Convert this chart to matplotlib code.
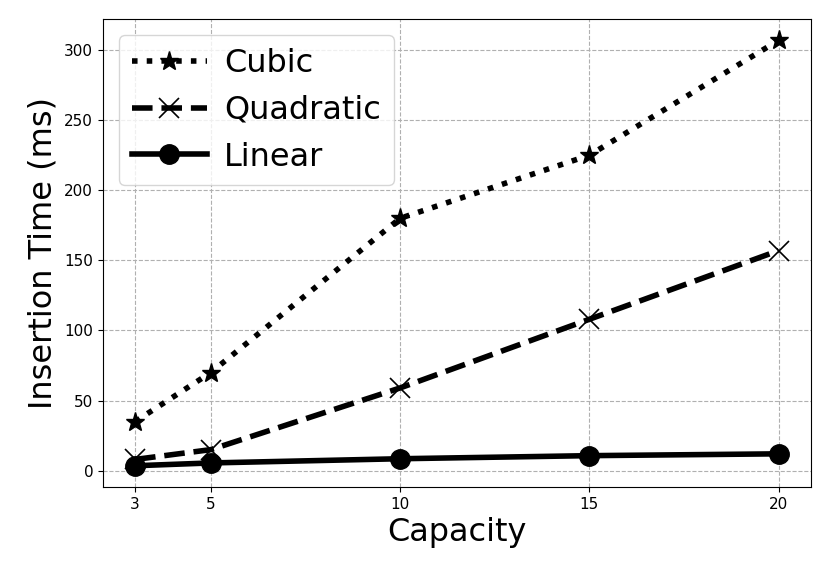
import matplotlib
matplotlib.use("Agg")
import matplotlib.pyplot as plt

capacity = [3, 5, 10, 15, 20]
cubic = [35, 70, 180, 225, 307]
quadratic = [8, 15, 59, 108, 157]
linear = [3.5, 5.5, 8.5, 10.7, 12]

fig = plt.figure(figsize=(8.3, 5.75), dpi=100)
ax = fig.add_axes([0.124, 0.153, 0.853, 0.814])

ax.plot(capacity, cubic, linestyle=":", marker="*", color="black",
        linewidth=4, markersize=14, label="Cubic")
ax.plot(capacity, quadratic, linestyle="--", marker="x", color="black",
        linewidth=4, markersize=14, markeredgewidth=1.2, label="Quadratic")
ax.plot(capacity, linear, linestyle="-", marker="o", color="black",
        linewidth=4, markersize=14, label="Linear")

ax.set_xticks(capacity)
ax.tick_params(labelsize=11)
ax.grid(True, linestyle="--", color="#b0b0b0")
ax.set_xlabel("Capacity", fontsize=23)
ax.set_ylabel("Insertion Time (ms)", fontsize=23)
ax.legend(loc="upper left", fontsize=23, handlelength=2.35,
          handletextpad=0.55)

fig.savefig("out.png")
